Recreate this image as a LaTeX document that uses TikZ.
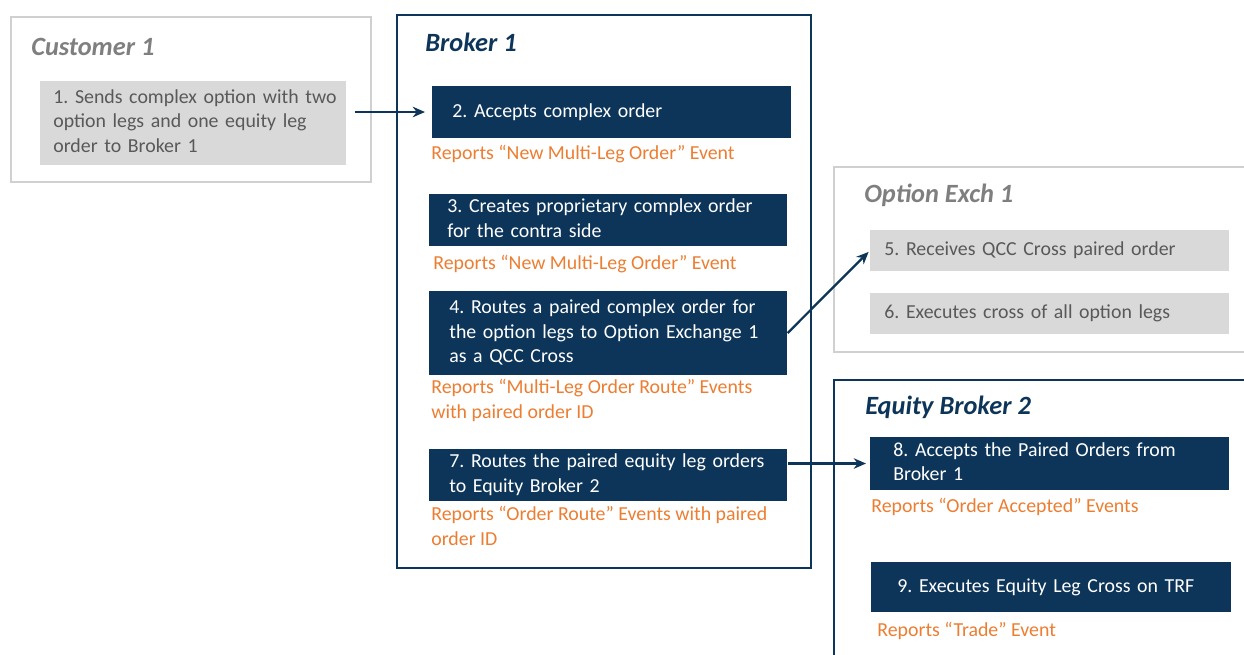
\documentclass[tikz,border=0pt]{standalone}
\usepackage{fontspec}
\setmainfont{Carlito}
\usetikzlibrary{positioning, arrows.meta}
\definecolor{navy}{HTML}{0D3559}
\definecolor{repcol}{HTML}{ED7D31}
\definecolor{boxgray}{HTML}{D9D9D9}
\definecolor{txtgray}{HTML}{595959}
\definecolor{ttlgray}{HTML}{7F7F7F}
\definecolor{framegray}{HTML}{D0D0D0}
\newcommand{\boxlines}[1]{\begin{tabular}{@{}l@{}}#1\end{tabular}}
\tikzset{
    >={Stealth[length=7pt,width=6pt]}, % arrow heads
    navybox/.style={fill=navy, text=white, anchor=west, align=left, minimum height=1.04cm, inner ysep=0pt},
    graybox/.style={fill=boxgray, text=txtgray, anchor=west, align=left, inner ysep=0pt},
    report/.style={text=repcol, anchor=west, align=left, inner sep=0pt},
    title/.style={anchor=west, inner sep=0pt, font=\fontsize{15}{17}\selectfont\bfseries\itshape},
    lightframe/.style={draw=framegray, line width=0.9pt},
    navyframe/.style={draw=navy, line width=1.3pt},
    flow/.style={->, draw=navy, line width=1.3pt}
}

\begin{document}
\frenchspacing
\begin{tikzpicture}[x=0.02cm, y=-0.02cm, every node/.style={font=\fontsize{11.3}{14.2}\selectfont}]
    \useasboundingbox (0,0) rectangle (1244,654);

    % frames
    \draw[lightframe] (11,17) rectangle (371,182);
    \draw[navyframe] (397,15) rectangle (811,568);
    \draw[lightframe] (834,167) rectangle (1270,352);
    \draw[navyframe] (834,380) rectangle (1270,680);

    \node[title, text=ttlgray] (tc) at (31,47) {Customer 1};
    \node[title, text=navy] (tb) at (425,42) {Broker 1};
    \node[title, text=ttlgray] (to) at (864,195) {Option Exch 1};
    \node[title, text=navy] (te) at (865,407) {Equity Broker 2};

    % customer
    \node[graybox, minimum height=1.68cm, inner xsep=0.26cm, text width=5.6cm] (s1) at (40,123) {\boxlines{1. Sends complex option with two\\option legs and one equity leg\\order to Broker 1}};

    % broker 1
    \node[navybox, inner xsep=0.4cm, text width=6.38cm] (s2) at (432,112) {2. Accepts complex order};
    \node[report] (r2) at (431,154) {Reports “New Multi-Leg Order” Event};
    \node[navybox, inner xsep=0.36cm, text width=6.44cm] (s3) at (429,220) {\boxlines{3. Creates proprietary complex order\\for the contra side}};
    \node[report] (r3) at (433,264) {Reports “New Multi-Leg Order” Event};
    \node[navybox, minimum height=1.68cm, inner xsep=0.4cm, text width=6.36cm] (s4) at (429,333) {\boxlines{4. Routes a paired complex order for\\the option legs to Option Exchange 1\\as a QCC Cross}};
    \node[report] (r4) at (431,401) {\boxlines{Reports “Multi-Leg Order Route” Events\\with paired order ID}};
    \node[navybox, inner xsep=0.4cm, text width=6.36cm] (s7) at (429,475) {\boxlines{7. Routes the paired equity leg orders\\to Equity Broker 2}};
    \node[report] (r7) at (431,528) {\boxlines{Reports “Order Route” Events with paired\\order ID}};

    % option exchange
    \node[graybox, minimum height=0.82cm, inner xsep=0.28cm, text width=6.62cm] (s5) at (870,250.5) {5. Receives QCC Cross paired order};
    \node[graybox, minimum height=0.82cm, inner xsep=0.28cm, text width=6.62cm] (s6) at (870,313.5) {6. Executes cross of all option legs};

    % equity broker
    \node[navybox, minimum height=1.06cm, inner xsep=0.46cm, text width=6.26cm] (s8) at (870,463.5) {\boxlines{8. Accepts the Paired Orders from\\Broker 1}};
    \node[report] (r8) at (871,507) {Reports “Order Accepted” Events};
    \node[navybox, minimum height=1.0cm, inner xsep=0.52cm, text width=6.16cm] (s9) at (871,587) {9. Executes Equity Leg Cross on TRF};
    \node[report] (r9) at (877,631) {Reports “Trade” Event};

    \draw[flow, shorten <=0.16cm, shorten >=0.14cm] (s1.east |- s2.west) -- (s2.west);
    \draw[flow, shorten >=0.04cm] (s4.east) -- (s5.west);
    \draw[flow, shorten >=0.08cm] (s7.east |- s8.west) -- (s8.west);

\end{tikzpicture}
\end{document}
